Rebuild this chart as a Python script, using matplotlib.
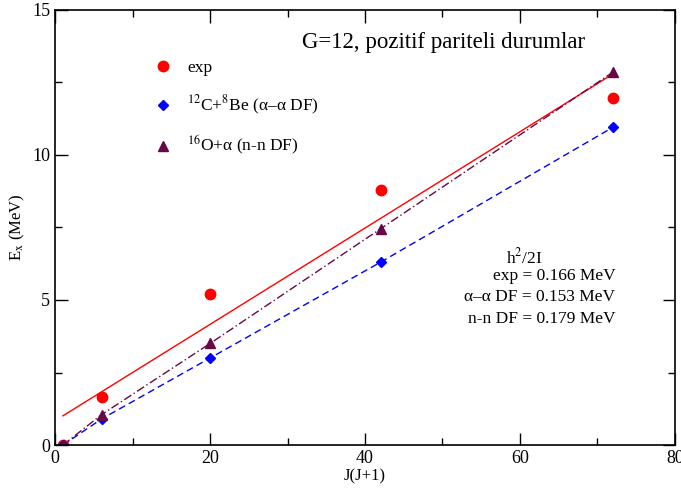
import numpy as np
import matplotlib
matplotlib.use("Agg")
import matplotlib.pyplot as plt
from matplotlib.ticker import MultipleLocator

plt.rcParams["font.family"] = ["Liberation Serif", "DejaVu Serif"]
plt.rcParams["mathtext.fontset"] = "stix"

# J(J+1) values for the positive-parity band
jj = [1, 6, 20, 42, 72]
e_exp = [0.0, 1.65, 5.2, 8.8, 11.95]
e_aa = [0.0, 0.9, 3.0, 6.3, 10.95]     # 12C+8Be (alpha-alpha DF)
e_nn = [0.0, 1.05, 3.5, 7.45, 12.85]   # 16O+alpha (n-n DF)

RED = "#ff0000"
BLUE = "#0000ff"
MAROON = "#670748"

fig = plt.figure(figsize=(6.81, 4.88), dpi=100)
ax = fig.add_axes([0.081, 0.088, 0.910, 0.892])

# linear fit of the experimental energies
slope, icpt = np.polyfit(jj, e_exp, 1)
xfit = np.array([jj[0], jj[-1]])
ax.plot(xfit, slope * xfit + icpt, color=RED, lw=1.0)

ax.plot(jj, e_aa, color=BLUE, lw=1.0, ls=(0, (5, 3)))
ax.plot(jj, e_nn, color=MAROON, lw=1.0, ls=(0, (6, 2, 1, 2)))

ax.plot(jj, e_exp, "o", color=RED, ms=7.5, ls="none", label="exp")
ax.plot(jj, e_aa, "D", color=BLUE, ms=5, ls="none",
        label="$^{12}$C+$^{8}$Be (α–α DF)")
ax.plot(jj, e_nn, "^", color=MAROON, ms=7, ls="none",
        label="$^{16}$O+α (n-n DF)")

ax.set_xlim(0, 80)
ax.set_ylim(0, 15)
ax.xaxis.set_major_locator(MultipleLocator(20))
ax.xaxis.set_minor_locator(MultipleLocator(10))
ax.yaxis.set_major_locator(MultipleLocator(5))
ax.yaxis.set_minor_locator(MultipleLocator(2.5))
ax.tick_params(which="both", direction="in", top=True, right=True, labelsize=13)
ax.tick_params(which="major", length=9, width=1.0)
ax.tick_params(which="minor", length=5, width=1.0)
for s in ax.spines.values():
    s.set_linewidth(1.2)

ax.set_xlabel("J(J+1)", fontsize=12, labelpad=1)
ax.set_ylabel(r"E$_{\rm x}$ (MeV)", fontsize=12, labelpad=4)

leg = ax.legend(loc="upper left", bbox_to_anchor=(0.135, 0.92), frameon=False,
                fontsize=12.5, handletextpad=0.9, labelspacing=1.0,
                handlelength=1.0)

ax.text(0.398, 0.925, "G=12, pozitif pariteli durumlar", transform=ax.transAxes,
        fontsize=16.5, ha="left", va="center")

ax.text(0.727, 0.432, "h$^2$/2I", transform=ax.transAxes, fontsize=12.5,
        ha="left", va="center")
notes = ["exp = 0.166 MeV", "α–α DF = 0.153 MeV", "n-n DF = 0.179 MeV"]
for i, line in enumerate(notes):
    ax.text(0.904, 0.388 - i * 0.049, line, transform=ax.transAxes,
            fontsize=12.5, ha="right", va="center")

fig.savefig("out.png", dpi=100)
